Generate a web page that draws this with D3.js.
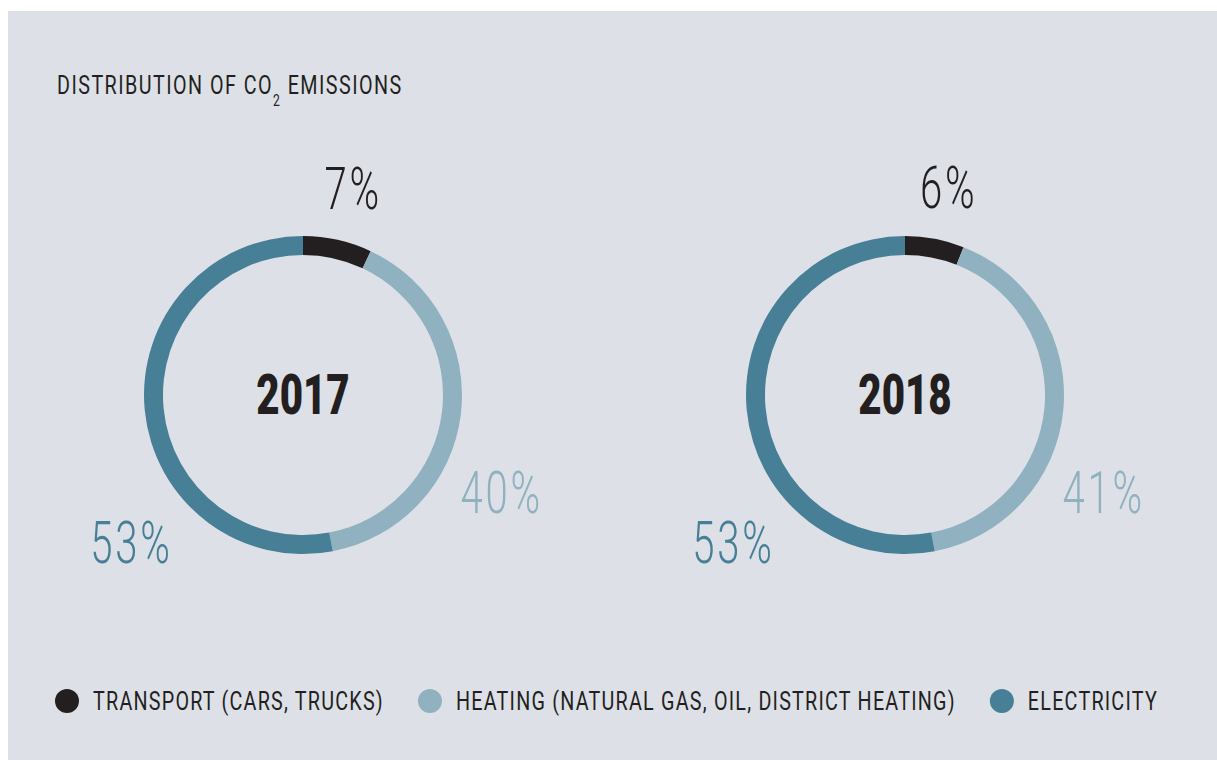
<!DOCTYPE html>
<html>
<head>
<meta charset="utf-8">
<script src="https://cdn.jsdelivr.net/npm/d3@7"></script>
<style>
  body { margin: 0; background: #fff; }
  svg { display: block; }
  text { font-family: Roboto, "Noto Sans", sans-serif; }
</style>
</head>
<body>
<div id="chart"></div>
<script>
// data
const categories = ["TRANSPORT (CARS, TRUCKS)", "HEATING (NATURAL GAS, OIL, DISTRICT HEATING)", "ELECTRICITY"];
const years = ["2017", "2018"];
const values2017 = [7, 40, 53];
const values2018 = [6, 41, 53];
const colors = ["#231f20", "#8fb1c0", "#477f96"];

const width = 1217, height = 760;
const squeeze = 0.72; // fake a condensed face

const svg = d3.select("#chart").append("svg")
    .attr("width", width)
    .attr("height", height);

svg.append("rect")
    .attr("x", 8).attr("y", 11)
    .attr("width", width - 8).attr("height", height - 11)
    .attr("fill", "#dde1e7");

// title
const title = svg.append("text")
    .attr("transform", `translate(57,94) scale(0.76,1)`)
    .attr("font-size", 26)
    .attr("letter-spacing", 1.9)
    .attr("fill", "#231f20");
title.append("tspan").text("DISTRIBUTION OF CO");
title.append("tspan").attr("font-size", 16).attr("dy", 12).text("2");
title.append("tspan").attr("dy", -12).text(" EMISSIONS");

const x = d3.scalePoint().domain(years).range([303, 905]);
const cy = 395;

const pie = d3.pie().sort(null).value(d => d);
const arc = d3.arc().innerRadius(140).outerRadius(159);

// where the percent labels sit: transport follows its slice, the others stay put
const labelRadius = [212, 221, 226];
const labelAngle = [null, 116, 229.4];

[values2017, values2018].forEach((vals, yi) => {
    const g = svg.append("g")
        .attr("transform", `translate(${x(years[yi])},${cy})`);

    const arcs = pie(vals);
    g.selectAll("path")
        .data(arcs)
        .enter()
        .append("path")
        .attr("d", arc)
        .attr("fill", (d, i) => colors[i]);

    g.append("text")
        .attr("transform", `scale(${squeeze},1)`)
        .attr("text-anchor", "middle")
        .attr("y", 19)
        .attr("font-size", 56)
        .attr("font-weight", 900)
        .attr("fill", "#231f20")
        .text(years[yi]);

    g.selectAll("text.pct")
        .data(arcs)
        .enter()
        .append("text")
        .attr("class", "pct")
        .attr("transform", (d, i) => {
            const a = labelAngle[i] == null ? (d.startAngle + d.endAngle) / 2 : labelAngle[i] * Math.PI / 180;
            const r = labelRadius[i];
            const shift = i === 0 ? 4 : 0;
            return `translate(${r * Math.sin(a) + shift},${-r * Math.cos(a)}) scale(0.68,1)`;
        })
        .attr("text-anchor", "middle")
        .attr("dy", "0.355em")
        .attr("font-size", 59)
        .attr("font-weight", 300)
        .attr("letter-spacing", 4)
        .attr("fill", (d, i) => i === 0 ? "#231f20" : colors[i])
        .text(d => d.data + "%");
});

// legend
const legend = svg.append("g").attr("transform", "translate(0,701)");
const legendScale = 0.76;
let lx = 67;
categories.forEach((c, i) => {
    legend.append("circle")
        .attr("cx", lx).attr("cy", 0).attr("r", 12)
        .attr("fill", colors[i]);
    const t = legend.append("text")
        .attr("transform", `translate(${lx + 26},0) scale(${legendScale},1)`)
        .attr("dy", "0.355em")
        .attr("font-size", 26)
        .attr("letter-spacing", 1.6)
        .attr("fill", "#231f20")
        .text(c);
    lx += 26 + t.node().getComputedTextLength() * legendScale + 46;
});
</script>
</body>
</html>
